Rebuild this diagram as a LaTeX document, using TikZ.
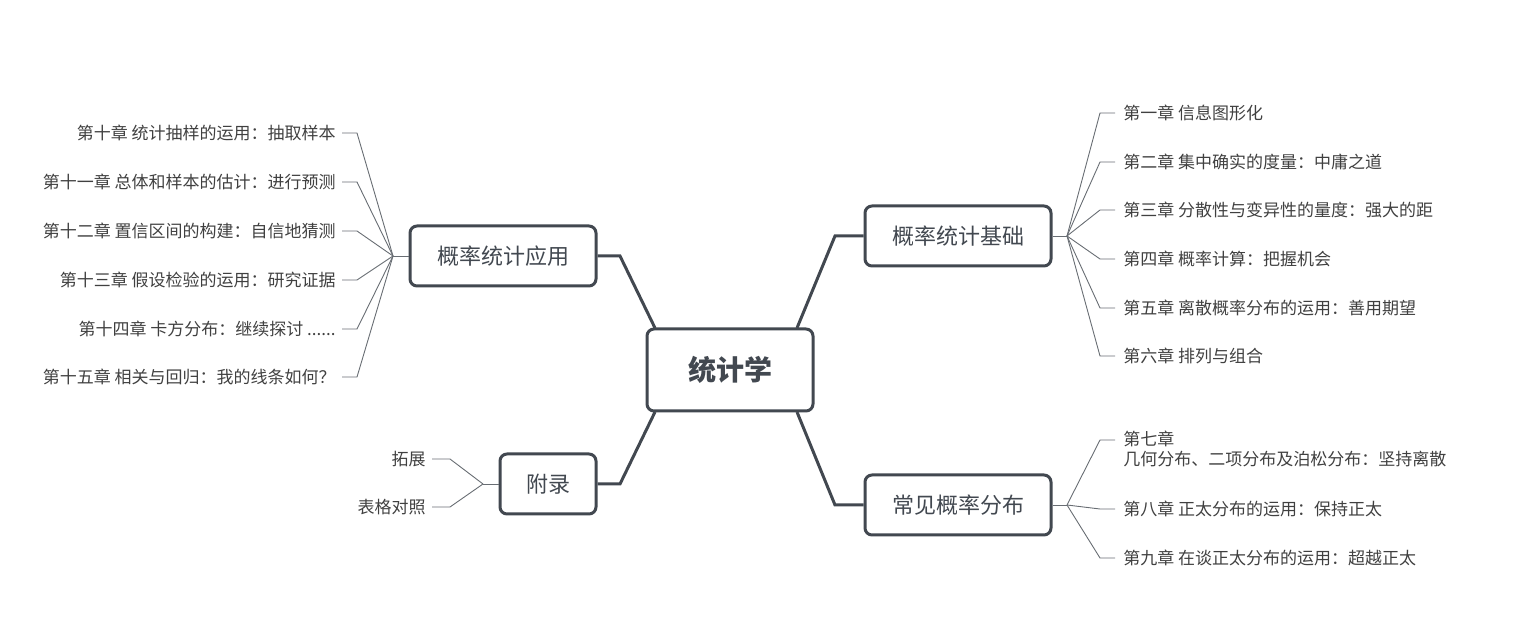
\documentclass[tikz,border=0pt]{standalone}
\usepackage{fontspec}
\setmainfont{Noto Sans CJK SC}
\usetikzlibrary{positioning}
\definecolor{edge}{HTML}{424850}
\definecolor{leaftext}{HTML}{404040}
\tikzset{
  box/.style={draw=edge, line width=1.5pt, rounded corners=3.5pt, fill=white, text=edge},
  root/.style={box, minimum width=83pt, minimum height=41pt, font=\fontsize{14}{16}\selectfont\bfseries},
  topic/.style={box, minimum width=93pt, minimum height=30pt, font=\fontsize{11}{13}\selectfont},
  leaf/.style={text=leaftext, font=\fontsize{8.5}{10}\selectfont, inner sep=0pt},
  trunk/.style={draw=edge, line width=1.5pt},
  twig/.style={draw=edge!80, line width=0.45pt}
}
\begin{document}
\begin{tikzpicture}[x=0.5pt, y=-0.5pt]
  \useasboundingbox (0,0) rectangle (1527,640);
  % main topics
  \node[root] (stat) at (730,370) {统计学};
  \node[topic] (base) at (958,236) {概率统计基础};
  \node[topic] (dist) at (958,505) {常见概率分布};
  \node[topic] (appl) at (503,256) {概率统计应用};
  \node[topic, minimum width=48pt] (appx) at (548,484) {附录};

  \draw[trunk] (797,328) -- (835,236) -- (base.west);
  \draw[trunk] (797,412) -- (835,505) -- (dist.west);
  \draw[trunk] (655,328) -- (620,256) -- (appl.east);
  \draw[trunk] (655,412) -- (620,484) -- (appx.east);

  % right side leaves
  \coordinate (bj) at (1067,236);
  \draw[twig] (base.east) -- (bj);
  \foreach \y/\t [count=\i] in {113/{第一章 信息图形化},
      162/{第二章 集中确实的度量：中庸之道},
      210/{第三章 分散性与变异性的量度：强大的距},
      259/{第四章 概率计算：把握机会},
      308/{第五章 离散概率分布的运用：善用期望},
      356/{第六章 排列与组合}} {
    \node[leaf, anchor=west] (b\i) at (1123,\y) {\t};
    \draw[twig] (bj) -- (1100,\y) -- (1115,\y);
  }
  \coordinate (dj) at (1067,505);
  \draw[twig] (dist.east) -- (dj);
  \node[leaf, anchor=west, text width=188pt, align=left] (d1) at (1123,449)
    {第七章 几何分布、二项分布及泊松分布：坚持离散};
  \draw[twig] (dj) -- (1100,440) -- (1115,440);
  \foreach \y/\t [count=\i from 2] in {509/{第八章 正太分布的运用：保持正太},
      558/{第九章 在谈正太分布的运用：超越正太}} {
    \node[leaf, anchor=west] (d\i) at (1123,\y) {\t};
    \draw[twig] (dj) -- (1100,\y) -- (1115,\y);
  }

  % left side leaves
  \coordinate (aj) at (393,256);
  \draw[twig] (appl.west) -- (aj);
  \foreach \y/\t [count=\i] in {133/{第十章 统计抽样的运用：抽取样本},
      182/{第十一章 总体和样本的估计：进行预测},
      231/{第十二章 置信区间的构建：自信地猜测},
      280/{第十三章 假设检验的运用：研究证据},
      329/{第十四章 卡方分布：继续探讨 {......}},
      377/{第十五章 相关与回归：我的线条如何？}} {
    \node[leaf, anchor=east] (a\i) at (336,\y) {\t};
    \draw[twig] (aj) -- (357,\y) -- (342,\y);
  }
  \coordinate (xj) at (483,484);
  \draw[twig] (appx.west) -- (xj);
  \foreach \y/\t [count=\i] in {459/拓展, 507/表格对照} {
    \node[leaf, anchor=east] (x\i) at (426,\y) {\t};
    \draw[twig] (xj) -- (450,\y) -- (432,\y);
  }
\end{tikzpicture}
\end{document}
